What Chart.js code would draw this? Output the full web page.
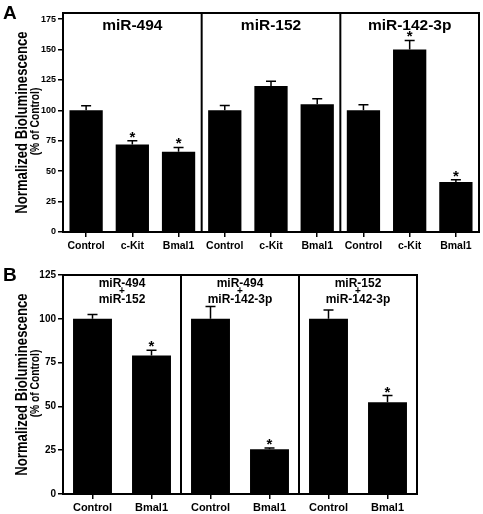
<!DOCTYPE html>
<html><head><meta charset="utf-8">
<script src="https://cdn.jsdelivr.net/npm/chart.js@4/dist/chart.umd.min.js"></script>
<style>
html,body{margin:0;padding:0;background:#fff;}
#wrap{position:relative;width:483px;height:514px;overflow:hidden;}
</style></head><body>
<div id="wrap">
<canvas id="ca" width="483" height="250" style="position:absolute;left:0;top:0"></canvas>
<canvas id="cb" width="483" height="264" style="position:absolute;left:0;top:250px"></canvas>
</div>
<script>
// ---- Panel A data ----
const categoriesA = ['Control','c-Kit','Bmal1','Control','c-Kit','Bmal1','Control','c-Kit','Bmal1'];
const groupsA = ['miR-494','miR-152','miR-142-3p'];
const valuesA = [100, 72, 66, 100, 120, 105, 100, 150, 41];
const errorsA = [3.8, 3, 3.5, 4, 4, 4.5, 4.5, 7.5, 2];
const starsA  = [0, 1, 1, 0, 0, 0, 0, 1, 1];
const ticksA  = [0, 25, 50, 75, 100, 125, 150, 175];

// ---- Panel B data ----
const categoriesB = ['Control','Bmal1','Control','Bmal1','Control','Bmal1'];
const groupsB = [['miR-494','+','miR-152'],['miR-494','+','miR-142-3p'],['miR-152','+','miR-142-3p']];
const valuesB = [100, 79, 100, 25.5, 100, 52.3];
const errorsB = [2.5, 3, 7, 0.7, 5, 3.9];
const starsB  = [0, 1, 0, 1, 0, 1];
const ticksB  = [0, 25, 50, 75, 100, 125];

const FONT = "'Liberation Sans', Arial, sans-serif";
function hasFont(f){
  const c = document.createElement('canvas').getContext('2d');
  c.font = 'bold 20px monospace'; const w1 = c.measureText('Control Bmal1 miR').width;
  c.font = "bold 20px '" + f + "', monospace"; const w2 = c.measureText('Control Bmal1 miR').width;
  return Math.abs(w1 - w2) > 0.5;
}
const HAS_NARROW = hasFont('Liberation Sans Narrow');
const NARROW = "'Liberation Sans Narrow', 'Liberation Sans', Arial, sans-serif";

// draw horizontally-condensed text (uses narrow font when available)
function condText(ctx, s, size, x, y, baseline){
  ctx.save();
  ctx.translate(x, y);
  if (HAS_NARROW) { ctx.font = 'bold ' + size + 'px ' + NARROW; }
  else { ctx.font = 'bold ' + size + 'px ' + FONT; ctx.scale(0.82, 1); }
  ctx.textAlign = 'center'; ctx.textBaseline = baseline || 'alphabetic';
  ctx.fillText(s, 0, 0);
  ctx.restore();
}
// draw text whose glyph box (of `ref`, default the text itself) is centred on (x, cy)
function centredText(ctx, s, x, cy, ref){
  ctx.textAlign = 'center'; ctx.textBaseline = 'alphabetic';
  const m = ctx.measureText(ref || s);
  ctx.fillText(s, x, cy + (m.actualBoundingBoxAscent - m.actualBoundingBoxDescent) / 2);
}

function decoPlugin(o){
  return {
    id: 'deco',
    afterDatasetsDraw(chart){
      const ctx = chart.ctx, a = chart.chartArea, x = chart.scales.x, y = chart.scales.y;
      ctx.save();
      ctx.strokeStyle = '#000'; ctx.fillStyle = '#000';
      // error bars + stars
      o.values.forEach((v,i)=>{
        const px = x.getPixelForValue(i);
        const top = y.getPixelForValue(v), et = y.getPixelForValue(v + o.errors[i]);
        ctx.lineWidth = 1.5;
        ctx.beginPath();
        ctx.moveTo(px, top); ctx.lineTo(px, et);
        ctx.moveTo(px-5, et); ctx.lineTo(px+5, et);
        ctx.stroke();
        if (o.stars[i]) {
          ctx.font = 'bold 15px ' + FONT;
          centredText(ctx, '*', px, et - 6);
        }
      });
      // frame
      ctx.lineWidth = 2;
      ctx.strokeRect(a.left, a.top, a.right - a.left, a.bottom - a.top);
      // dividers + titles
      const n = o.perGroup;
      for (let g = 0; g < o.groups.length; g++) {
        const l = g === 0 ? a.left : (x.getPixelForValue(g*n-1) + x.getPixelForValue(g*n))/2;
        const r = g === o.groups.length-1 ? a.right : (x.getPixelForValue((g+1)*n-1) + x.getPixelForValue((g+1)*n))/2;
        if (g > 0) { ctx.beginPath(); ctx.moveTo(l, a.top); ctx.lineTo(l, a.bottom); ctx.stroke(); }
        const t = o.groups[g];
        if (Array.isArray(t)) {
          t.forEach((s, k) => {
            ctx.font = 'bold ' + (s === '+' ? 10 : 12) + 'px ' + FONT;
            centredText(ctx, s, (l+r)/2, a.top + o.titleY[k], s === '+' ? '+' : 'H');
          });
        } else {
          ctx.font = 'bold 15.5px ' + FONT;
          centredText(ctx, t, (l+r)/2, a.top + o.titleY[0], 'H');
        }
      }
      // y-axis titles (rotated)
      const cyT = (a.top + a.bottom) / 2;
      ctx.save();
      ctx.translate(o.yt1x, cyT); ctx.rotate(-Math.PI/2);
      condText(ctx, 'Normalized Bioluminescence', 16, 0, 0, 'alphabetic');
      ctx.restore();
      ctx.save();
      ctx.translate(o.yt2x, cyT - 1); ctx.rotate(-Math.PI/2);
      condText(ctx, '(% of Control)', 12.5, 0, 0, 'alphabetic');
      ctx.restore();
      // panel letter
      ctx.font = 'bold 19px ' + FONT; ctx.textAlign = 'left'; ctx.textBaseline = 'alphabetic';
      ctx.fillText(o.letter, 3, o.letterY);
      ctx.restore();
    }
  };
}

function makeChart(id, cats, vals, ticks, max, barPct, pad, xh, tickFont, xFont, xPad, plug){
  return new Chart(document.getElementById(id), {
    type: 'bar',
    data: { labels: cats, datasets: [{ data: vals, backgroundColor: '#000', borderWidth: 0,
      barPercentage: barPct, categoryPercentage: 1 }] },
    options: {
      responsive: false, animation: false,
      layout: { padding: pad },
      plugins: { legend: { display: false }, tooltip: { enabled: false } },
      scales: {
        x: {
          offset: true,
          grid: { display: true, drawOnChartArea: false, offset: false, tickLength: 5, color: '#000', lineWidth: 1.5 },
          border: { display: true, color: '#000', width: 2 },
          ticks: { color: '#000', font: HAS_NARROW ? { family: NARROW, size: xFont, weight: 'bold' } : { family: FONT, size: xFont - 1.5, weight: 'bold' },
            padding: xPad, maxRotation: 0, autoSkip: false },
          afterFit: s => { s.height = xh; }
        },
        y: {
          min: 0, max: max,
          afterBuildTicks: s => { s.ticks = ticks.map(v => ({ value: v })); },
          grid: { display: true, drawOnChartArea: false, tickLength: 5, color: '#000', lineWidth: 1.5 },
          border: { display: true, color: '#000', width: 2 },
          ticks: { color: '#000', font: { family: FONT, size: tickFont, weight: 'bold' }, padding: 2 },
          afterFit: s => { s.width = 63; }
        }
      }
    },
    plugins: [plug]
  });
}

makeChart('ca', categoriesA, valuesA, ticksA, 180, 0.72, { left: 0, right: 4, top: 13, bottom: 0 }, 18, 9, 12, 3,
  decoPlugin({ values: valuesA, errors: errorsA, stars: starsA, groups: groupsA, perGroup: 3,
    titleY: [12], yt1x: 27, yt2x: 39, letter: 'A', letterY: 19 }));

makeChart('cb', categoriesB, valuesB, ticksB, 125, 0.66, { left: 0, right: 66, top: 25, bottom: 0 }, 20, 10, 12.5, 2.5,
  decoPlugin({ values: valuesB, errors: errorsB, stars: starsB, groups: groupsB, perGroup: 2,
    titleY: [7.5, 14.8, 23], yt1x: 27, yt2x: 39, letter: 'B', letterY: 31 }));
</script>
</body></html>
